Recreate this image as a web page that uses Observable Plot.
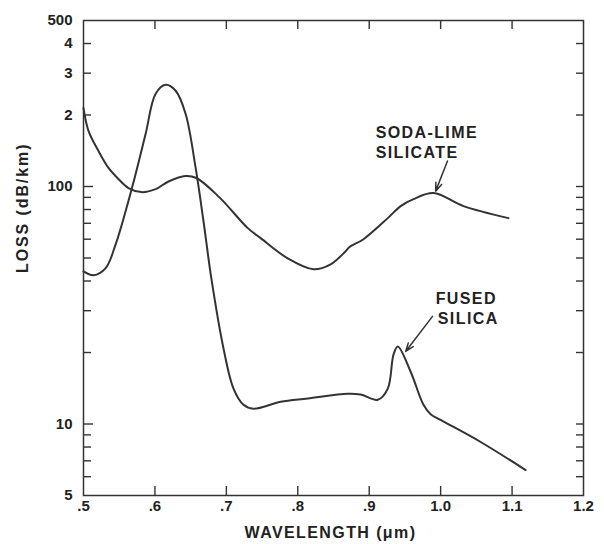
<!DOCTYPE html>
<html>
<head>
<meta charset="utf-8">
<script src="https://cdn.jsdelivr.net/npm/d3@7"></script>
<script src="https://cdn.jsdelivr.net/npm/@observablehq/plot@0.6"></script>
<style>
  html, body { margin: 0; padding: 0; background: #fff; }
  svg { display: block; }
</style>
</head>
<body>
<div id="chart"></div>
<script>
// ---- data ----
const sodaLambda = [0.500, 0.507, 0.521, 0.535, 0.549, 0.563, 0.581, 0.601, 0.619, 0.643, 0.658, 0.690, 0.730, 0.748, 0.786, 0.822, 0.846, 0.866, 0.872, 0.892, 0.926, 0.944, 0.962, 0.990, 1.032, 1.095];
const sodaLoss   = [214,   171.5, 141,   119.7, 107.5, 98.5,  94.7,  97.5,  105,   110.7, 108.6, 90.2,  66.8,  60.6,  49.8,  44.8,  47,    53,    55.5,  60,    73.6,  82.7,  88.5,  93.8,  82.7,  73.6];

const fusedLambda = [0.500, 0.514, 0.531, 0.545, 0.559, 0.573, 0.587, 0.601, 0.615, 0.629, 0.643, 0.657, 0.668, 0.679, 0.696, 0.710, 0.724, 0.738, 0.776, 0.814, 0.870, 0.888, 0.912, 0.926, 0.934, 0.940, 0.958, 0.976, 0.986, 1.000, 1.056, 1.119];
const fusedLoss   = [43.9,  42.3,  45.3,  57.1,  78.8,  112.9, 166.6, 245.7, 268,   253,   202,   119.7, 71.4,  41,    20.8,  14.1,  12.05, 11.6,  12.4,  12.8,  13.4,  13.3,  12.65, 14.1,  19.6,  21.2,  16.6,  12.05, 11.0,  10.4,  8.4,   6.4];

const xTicks = [0.5, 0.6, 0.7, 0.8, 0.9, 1.0, 1.1, 1.2];
const xTickLabels = [".5", ".6", ".7", ".8", ".9", "1.0", "1.1", "1.2"];
const xInnerTicks = [0.6, 0.7, 0.8, 0.9, 1.0, 1.1];
const yTicks = [5, 10, 100, 200, 300, 400, 500];
const yTickLabels = ["5", "10", "100", "2", "3", "4", "500"];
const yMajorTicks = [10, 100];
const yMinorTicks = [6, 7, 8, 9, 20, 30, 40, 50, 60, 70, 80, 90, 200, 300, 400];

// annotations (data coordinates)
const labelText = ["SODA-LIME", "SILICATE", "FUSED", "SILICA"];
const labelLambda = [0.909, 0.909, 0.993, 0.996];
const labelLoss = [168, 138, 33.5, 27.8];
const arrowFrom = [[1.0096, 128], [0.9886, 28.4]];
const arrowTo = [[0.993, 95.6], [0.951, 20.2]];

// ---- build tables ----
const soda = sodaLambda.map((x, i) => ({x, y: sodaLoss[i]}));
const fused = fusedLambda.map((x, i) => ({x, y: fusedLoss[i]}));
const labels = labelText.map((t, i) => ({t, x: labelLambda[i], y: labelLoss[i]}));
const arrows = arrowFrom.map((f, i) => ({x1: f[0], y1: f[1], x2: arrowTo[i][0], y2: arrowTo[i][1]}));

const W = 604, H = 544;
const mL = 83, mR = 21, mT = 20, mB = 49;
const pw = W - mL - mR, ph = H - mT - mB;
const ink = "#333";
const font = "'Liberation Sans', Arial, sans-serif";

const chart = Plot.plot({
  width: W,
  height: H,
  marginLeft: mL, marginRight: mR, marginTop: mT, marginBottom: mB,
  style: {fontFamily: font, background: "#fff", overflow: "visible"},
  x: {domain: [0.5, 1.2]},
  y: {type: "log", domain: [5, 500]},
  marks: [
    Plot.frame({stroke: ink, strokeWidth: 1.5}),
    // left inward ticks
    Plot.tickY(yMajorTicks, {y: d => d, insetRight: pw - 10, stroke: ink, strokeWidth: 1.4}),
    Plot.tickY(yMinorTicks, {y: d => d, insetRight: pw - 8, stroke: ink, strokeWidth: 1.4}),
    // right inward ticks
    Plot.tickY(yMajorTicks.concat(yMinorTicks), {y: d => d, insetLeft: pw - 7, stroke: ink, strokeWidth: 1.4}),
    // top & bottom inward ticks
    Plot.tickX(xInnerTicks, {x: d => d, insetBottom: ph - 9, stroke: ink, strokeWidth: 1.4}),
    Plot.tickX(xInnerTicks, {x: d => d, insetTop: ph - 9, stroke: ink, strokeWidth: 1.4}),
    Plot.axisY({
      ticks: yTicks, tickSize: 0, tickPadding: 11,
      tickFormat: d => yTickLabels[yTicks.indexOf(d)],
      label: null, fontSize: 15, fontWeight: "bold", fill: "#222"
    }),
    Plot.axisX({
      ticks: xTicks, tickSize: 0, tickPadding: 5,
      tickFormat: d => xTickLabels[xTicks.findIndex(v => Math.abs(v - d) < 1e-9)],
      label: null, fontSize: 15, fontWeight: "bold", fill: "#222"
    }),
    Plot.text(["WAVELENGTH (μm)"], {
      frameAnchor: "bottom", dx: -3, dy: 42, fontSize: 16, fontWeight: "bold",
      fill: "#222"
    }),
    Plot.text(["LOSS (dB/km)"], {
      frameAnchor: "left", dx: -61, dy: 15, rotate: -90, fontSize: 16, fontWeight: "bold",
      fill: "#222"
    }),
    Plot.line(soda, {x: "x", y: "y", curve: "catmull-rom", stroke: ink, strokeWidth: 2}),
    Plot.line(fused, {x: "x", y: "y", curve: "catmull-rom", stroke: ink, strokeWidth: 2}),
    Plot.text(labels, {x: "x", y: "y", text: "t", textAnchor: "start", lineAnchor: "middle",
      fontSize: 16, fontWeight: "bold", fill: "#222"}),
    Plot.arrow(arrows, {x1: "x1", y1: "y1", x2: "x2", y2: "y2", stroke: ink, strokeWidth: 1.5,
      headLength: 9, headAngle: 40})
  ]
});

// letter spacing on labels
chart.querySelectorAll("text").forEach(t => {
  const s = t.textContent;
  if (/[A-Z]{3,}/.test(s)) t.setAttribute("letter-spacing", s.startsWith("LOSS") ? "1.9" : "1.4");
});
document.getElementById("chart").appendChild(chart);
</script>
</body>
</html>
